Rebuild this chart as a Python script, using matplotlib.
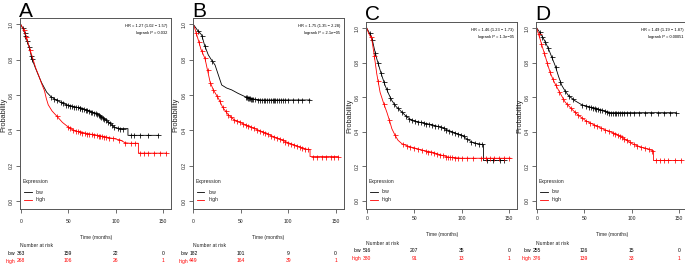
import numpy as np
import matplotlib.pyplot as plt
from matplotlib import font_manager
from matplotlib.lines import Line2D
from matplotlib.transforms import blended_transform_factory

# --- data: (time in months, survival probability) knots ---
a_low_t = [0, 3, 6, 9, 11.6, 15, 18.5, 22, 27.4, 32, 38, 46.7, 55, 64.2, 72, 81.8, 88, 94, 99.3, 103, 113, 113, 145]
a_low_s = [1, 0.97, 0.92, 0.87, 0.81, 0.76, 0.714, 0.67, 0.616, 0.59, 0.57, 0.548, 0.535, 0.525, 0.51, 0.49, 0.465,
           0.44, 0.415, 0.41, 0.41, 0.372, 0.372]
a_low_c = [2, 4, 5, 7, 9, 11, 12, 32, 35, 38, 42, 45, 48, 50, 52, 54, 56, 58, 60, 62, 63, 65, 67, 69, 70, 72, 74, 75,
           77, 79, 80, 82, 84, 85, 87, 88, 90, 92, 94, 96, 98, 102, 105, 108, 116, 119, 126, 134, 145]
a_high_t = [0, 3, 6, 9, 12, 16, 19, 22, 25, 27, 29, 33, 38.5, 44, 48.7, 54, 59, 65, 72, 81.8, 90, 99.3, 105, 110, 115,
            124, 124, 153.7]
a_high_s = [1, 0.97, 0.93, 0.87, 0.82, 0.75, 0.71, 0.665, 0.625, 0.58, 0.545, 0.51, 0.478, 0.445, 0.425, 0.405, 0.395,
            0.388, 0.38, 0.371, 0.362, 0.352, 0.345, 0.33, 0.327, 0.327, 0.271, 0.271]
a_high_c = [3, 6, 10, 38, 50, 52, 55, 58, 60, 62, 65, 68, 70, 72, 75, 77, 80, 82, 84, 86, 88, 90, 93, 97, 104, 110, 116,
            120, 126, 130, 134, 140, 147, 153]

b_low_t = [0, 4, 8.8, 12, 15.8, 19, 22.9, 26, 29.9, 35, 40.5, 47, 54.5, 62, 72, 123]
b_low_s = [1, 0.97, 0.94, 0.88, 0.827, 0.8, 0.77, 0.72, 0.657, 0.64, 0.629, 0.61, 0.591, 0.578, 0.572, 0.572]
b_low_c = [5, 9, 12, 20, 55, 57, 58, 59, 60, 61, 62, 63, 65, 68, 70, 72, 74, 76, 78, 80, 82, 84, 85, 86, 88, 90, 92, 95,
           97, 100, 105, 110, 115, 122]
b_high_t = [0, 2, 5.3, 8, 12.3, 15, 17.6, 21, 26.4, 31, 36.9, 43, 51, 60, 72, 82, 93.1, 100, 110.6, 118, 123, 123, 152.7]
b_high_s = [1, 0.97, 0.911, 0.86, 0.807, 0.74, 0.676, 0.63, 0.582, 0.53, 0.488, 0.46, 0.441, 0.42, 0.394, 0.37, 0.346,
            0.33, 0.309, 0.295, 0.29, 0.252, 0.252]
b_high_c = [3, 6, 9, 12, 15, 18, 21, 25, 28, 31, 34, 37, 40, 43, 46, 49, 52, 55, 58, 61, 64, 67, 70, 73, 76, 79, 82, 85,
            88, 91, 94, 97, 100, 103, 106, 109, 112, 115, 118, 121, 126, 130, 136, 140, 145, 148, 152]

c_low_t = [0, 2, 5.3, 8, 10.6, 15, 19.4, 23, 26.5, 31, 37.1, 42, 47.7, 58, 68.9, 78, 86.5, 94, 100.6, 106, 111.2, 116,
           123, 123, 144.7]
c_low_s = [1, 0.98, 0.947, 0.88, 0.822, 0.74, 0.667, 0.62, 0.58, 0.545, 0.513, 0.487, 0.465, 0.452, 0.44, 0.425, 0.407,
           0.39, 0.378, 0.355, 0.339, 0.33, 0.325, 0.233, 0.233]
c_low_c = [3, 6, 9, 12, 15, 18, 21, 25, 29, 33, 37, 41, 45, 48, 51, 54, 57, 60, 63, 66, 69, 72, 75, 78, 81, 84, 87, 90,
           93, 96, 99, 102, 106, 110, 114, 118, 121, 127, 133, 140, 145]
c_high_t = [0, 2, 5.3, 8, 10.6, 14.1, 17.5, 21.2, 24, 26.5, 30, 33, 37.1, 44, 51.2, 60, 68.9, 78, 86.5, 100, 151.8]
c_high_s = [1, 0.97, 0.937, 0.84, 0.735, 0.628, 0.57, 0.513, 0.465, 0.417, 0.378, 0.35, 0.33, 0.315, 0.304, 0.29,
            0.281, 0.265, 0.252, 0.246, 0.246]
c_high_c = [4, 8, 12, 18, 24, 30, 38, 42, 46, 50, 54, 58, 62, 65, 68, 71, 74, 77, 80, 84, 86, 88, 90, 93, 96, 100, 106,
            112, 120, 126, 130, 134, 139, 145, 150]

d_low_t = [0, 2, 5.3, 9, 12.4, 16, 19.4, 23, 26.5, 30, 33.5, 40, 47.7, 58, 68.9, 76, 146.5]
d_low_s = [1, 0.985, 0.957, 0.92, 0.88, 0.83, 0.783, 0.72, 0.667, 0.635, 0.609, 0.58, 0.555, 0.54, 0.523, 0.51, 0.51]
d_low_c = [3, 6, 9, 12, 16, 20, 25, 30, 34, 38, 48, 52, 55, 57, 59, 61, 63, 65, 67, 69, 72, 74, 76, 78, 80, 82, 84, 86,
           88, 90, 92, 95, 98, 103, 108, 114, 120, 128, 134, 140, 147]
d_high_t = [0, 1, 3.5, 6, 8.8, 11.5, 14.1, 17, 19.4, 25, 30, 37, 44.1, 52, 61.8, 72, 82.9, 92, 100.6, 110, 121.8, 123,
            123, 151.8]
d_high_s = [1, 0.98, 0.937, 0.89, 0.841, 0.79, 0.744, 0.705, 0.677, 0.62, 0.571, 0.53, 0.494, 0.462, 0.436, 0.41,
            0.388, 0.36, 0.33, 0.31, 0.291, 0.29, 0.233, 0.233]
d_high_c = [2, 5, 8, 11, 14, 17, 20, 24, 28, 32, 36, 40, 44, 48, 52, 56, 60, 64, 68, 72, 76, 80, 83, 86, 88, 90, 92, 95,
            98, 102, 106, 110, 114, 118, 122, 126, 130, 134, 138, 146, 152]

# number at risk at 0, 50, 100, 150 months
risk_times = [0, 50, 100, 150]
a_risk_low, a_risk_high = [363, 159, 22, 0], [268, 106, 26, 1]
b_risk_low, b_risk_high = [182, 101, 9, 0], [449, 164, 39, 1]
c_risk_low, c_risk_high = [516, 207, 35, 0], [380, 91, 13, 1]
d_risk_low, d_risk_high = [255, 126, 15, 0], [376, 139, 33, 1]

a_hr = ["HR = 1.27 (1.02 \u2212 1.57)", "logrank P = 0.032"]
b_hr = ["HR = 1.75 (1.35 \u2212 2.28)", "logrank P = 2.1e\u221205"]
c_hr = ["HR = 1.46 (1.23 \u2212 1.73)", "logrank P = 1.3e\u221205"]
d_hr = ["HR = 1.49 (1.19 \u2212 1.87)", "logrank P = 0.00051"]

x_ticks = [0, 50, 100, 150]
y_ticks = [0.0, 0.2, 0.4, 0.6, 0.8, 1.0]
y_ticklabels = ["0.0", "0.2", "0.4", "0.6", "0.8", "1.0"]

names = {f.name for f in font_manager.fontManager.ttflist}
narrow = 'Liberation Sans Narrow' if 'Liberation Sans Narrow' in names else 'Liberation Sans'
plt.rcParams['font.family'] = ['Liberation Sans', 'DejaVu Sans']

W, H = 685, 267
fig = plt.figure(figsize=(W / 100, H / 100), dpi=100)


def fx(px):
    return px / W


def fy(py):
    return 1 - py / H


FRAME = '#555555'
TXT = '#222222'
SMALL = 3.6


def draw_panel(letter, x0, top, bot, dy, low, high, risk_low, risk_high, hr):
    wpx = 151
    ax = fig.add_axes([fx(x0 - 0.66), fy(bot), wpx / W, (bot - top) / H])
    ax.set_xlim(-0.7, 158.4)
    ax.set_ylim(-0.045, 1.035)
    for (t, s, c), col in ((low, 'black'), (high, 'red')):
        ax.plot(t, s, color=col, lw=0.6)
        ax.plot(c, np.interp(c, t, s), ls='none', marker='+', ms=3.6, mew=0.55, color=col)

    for sp in ax.spines.values():
        sp.set_color(FRAME)
        sp.set_linewidth(0.7)
    ax.set_xticks(x_ticks)
    ax.set_xticklabels([str(v) for v in x_ticks])
    ax.set_yticks(y_ticks)
    ax.set_yticklabels(y_ticklabels, rotation=90, va='center')
    ax.tick_params(length=2.9, width=0.6, color=FRAME, labelsize=SMALL, labelcolor=TXT)
    ax.tick_params(axis='x', pad=4.3 + dy * 0.72)
    ax.tick_params(axis='y', pad=1.4)

    right = x0 - 0.66 + wpx
    fig.text(fx(x0 - 1.5), fy(16.7 + (top - 18.2)), letter, size=15, family=narrow,
             ha='left', va='baseline')
    fig.text(fx(x0 - 17), fy((top + bot) / 2 + 1), "Probability", rotation=90, size=5.3,
             ha='center', va='center', color=TXT)
    fig.text(fx((x0 + right) / 2), fy(237 + dy), "Time (months)", size=SMALL, ha='center', va='center',
             color=TXT)
    fig.text(fx(right - 3.3), fy(top + 7.5), hr[0], size=2.9, family=narrow, ha='right', va='center')
    fig.text(fx(right - 3.3), fy(top + 15.2), hr[1], size=2.9, family=narrow, ha='right', va='center')

    # legend
    fig.text(fx(x0 + 2), fy(bot - 27), "Expression", size=3.7, ha='left', va='center', color=TXT)
    for k, (lab, col) in enumerate((("low", 'black'), ("high", 'red'))):
        yy = fy(bot - 17 + 8 * k)
        fig.add_artist(Line2D([fx(x0 + 3.3), fx(x0 + 11)], [yy, yy], color=col, lw=0.6,
                              transform=fig.transFigure))
        fig.text(fx(x0 + 15), yy, lab, size=3.7, ha='left', va='center', color=TXT)

    # number at risk table
    tr = blended_transform_factory(ax.transData, fig.transFigure)
    fig.text(fx(x0 - 0.5), fy(245.7 + dy), "Number at risk", size=SMALL, ha='left', va='center', color=TXT)
    for row, vals, lab, col in ((253.3, risk_low, "low", 'black'), (261, risk_high, "high", 'red')):
        fig.text(fx(x0 - 5), fy(row + dy), lab, size=SMALL, ha='right', va='center', color=col)
        for t, v in zip(risk_times, vals):
            ax.text(t, fy(row + dy), str(v), transform=tr, size=SMALL, ha='center', va='center',
                    color=col, clip_on=False)
    return ax


draw_panel("A", 20.7, 18.2, 209, 0, (a_low_t, a_low_s, a_low_c), (a_high_t, a_high_s, a_high_c),
           a_risk_low, a_risk_high, a_hr)
draw_panel("B", 193.3, 18.2, 209, 0, (b_low_t, b_low_s, b_low_c), (b_high_t, b_high_s, b_high_c),
           b_risk_low, b_risk_high, b_hr)
draw_panel("C", 366.7, 22.0, 208.5, -2.6, (c_low_t, c_low_s, c_low_c), (c_high_t, c_high_s, c_high_c),
           c_risk_low, c_risk_high, c_hr)
draw_panel("D", 536.7, 22.0, 208.5, -2.6, (d_low_t, d_low_s, d_low_c), (d_high_t, d_high_s, d_high_c),
           d_risk_low, d_risk_high, d_hr)

fig.savefig("out.png", dpi=100, facecolor='white')
